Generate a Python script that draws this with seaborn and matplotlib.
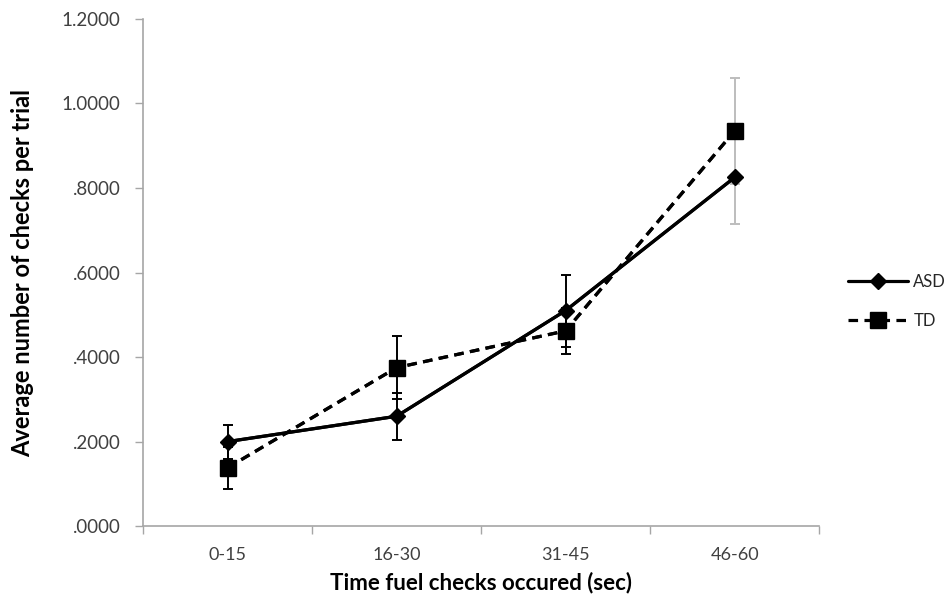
import numpy as np
import pandas as pd
import matplotlib
matplotlib.use("Agg")
import matplotlib.pyplot as plt
import seaborn as sns

# values
periods = ["0-15", "16-30", "31-45", "46-60"]
asd_mean = [0.200, 0.260, 0.510, 0.825]
asd_err = [0.040, 0.055, 0.085, 0.110]
td_mean = [0.138, 0.375, 0.462, 0.935]
td_err = [0.050, 0.075, 0.055, 0.125]
groups = ["ASD", "TD"]

sns.set_theme(style="white")
plt.rcParams["font.family"] = ["Lato", "DejaVu Sans"]

df = pd.DataFrame({
    "pos": list(range(len(periods))) * 2,
    "period": periods * 2,
    "group": ["ASD"] * len(periods) + ["TD"] * len(periods),
    "mean": asd_mean + td_mean,
    "err": asd_err + td_err,
})

fig = plt.figure(figsize=(9.47, 6.09), dpi=100)
ax = fig.add_axes([0.151, 0.136, 0.714, 0.833])

# error bars first so the markers sit on top
for g in groups:
    sub = df[df["group"] == g]
    for _, r in sub.iterrows():
        col = "#bdbdbd" if r["pos"] == 3 else "black"
        ax.errorbar(r["pos"], r["mean"], yerr=r["err"], fmt="none",
                    ecolor=col, elinewidth=1.4, capsize=3.5, capthick=1.4, zorder=2)

sns.lineplot(data=df, x="pos", y="mean", hue="group", style="group",
             palette={"ASD": "black", "TD": "black"},
             markers={"ASD": "D", "TD": "s"},
             dashes={"ASD": "", "TD": (3.0, 2.0)},
             markersize=0, linewidth=2.3, ax=ax, legend=False, zorder=3)

asd = df[df["group"] == "ASD"]
td = df[df["group"] == "TD"]
ax.plot(asd["pos"], asd["mean"], color="black", lw=2.3, marker="D", ms=8,
        label="ASD", zorder=4)
ax.plot(td["pos"], td["mean"], color="black", lw=2.3, ls=(0, (3.0, 2.0)),
        marker="s", ms=12, label="TD", zorder=4)

ax.set_xlim(-0.5, 3.5)
ax.set_ylim(0, 1.2)
ax.set_yticks(np.arange(0, 1.21, 0.2))
ax.set_yticklabels(["1.2000" if v > 1.1 else ("1.0000" if v > 0.9 else f"{v:.4f}"[1:])
                    for v in np.arange(0, 1.21, 0.2)])

ax.set_xticks([-0.5, 0.5, 1.5, 2.5, 3.5])
ax.set_xticklabels([])
ax.set_xticks(range(len(periods)), minor=True)
ax.set_xticklabels(periods, minor=True)
ax.tick_params(axis="x", which="major", length=6, width=1, color="#a6a6a6", direction="out")
ax.tick_params(axis="x", which="minor", length=0, pad=15, labelsize=13, labelcolor="#404040")
ax.tick_params(axis="y", length=6, width=1, color="#a6a6a6", direction="out",
               labelsize=13.5, labelcolor="#404040", pad=10)
ax.xaxis.set_ticks_position("bottom")
ax.yaxis.set_ticks_position("left")

for s in ["top", "right"]:
    ax.spines[s].set_visible(False)
for s in ["left", "bottom"]:
    ax.spines[s].set_color("#a6a6a6")
    ax.spines[s].set_linewidth(1.2)

ax.set_xlabel("Time fuel checks occured (sec)", fontsize=16, fontweight="bold",
              color="black", labelpad=6)
ax.set_ylabel("Average number of checks per trial", fontsize=17, fontweight="bold",
              color="black", labelpad=20)

fig.legend(loc="center left", bbox_to_anchor=(0.88, 0.505), frameon=False,
           handlelength=3.6, labelspacing=1.4, fontsize=12, handletextpad=0.3)

fig.savefig("out.png", dpi=100)
